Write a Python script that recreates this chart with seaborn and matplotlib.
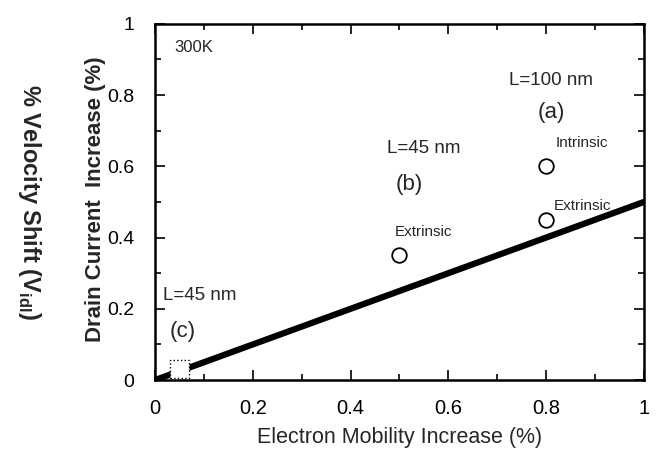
import matplotlib
matplotlib.use("Agg")
import matplotlib.pyplot as plt
import seaborn as sns
import pandas as pd
from matplotlib.ticker import MultipleLocator, FuncFormatter

# data
fit_x = [0.0, 1.0]
fit_y = [0.0, 0.5]
circle_x = [0.5, 0.8, 0.8]
circle_y = [0.35, 0.60, 0.45]
square_x = [0.05]
square_y = [0.03]

sns.set_theme(style="ticks")
fam = ['Liberation Sans', 'DejaVu Sans']
plt.rcParams['font.family'] = fam
plt.rcParams['mathtext.fontset'] = 'custom'
plt.rcParams['mathtext.rm'] = 'Liberation Sans'
plt.rcParams['mathtext.bf'] = 'Liberation Sans:bold'

fig = plt.figure(figsize=(6.57, 4.59), dpi=100)
ax = fig.add_axes([0.236, 0.172, 0.744, 0.776])

df_fit = pd.DataFrame({'x': fit_x, 'y': fit_y})
df_c = pd.DataFrame({'x': circle_x, 'y': circle_y})
df_s = pd.DataFrame({'x': square_x, 'y': square_y})

sns.lineplot(data=df_fit, x='x', y='y', ax=ax, color='black', linewidth=4.5, zorder=2)
sns.scatterplot(data=df_c, x='x', y='y', ax=ax, marker='o', s=110, facecolor='white',
                edgecolor='black', linewidth=1.3, zorder=3)
sns.scatterplot(data=df_s, x='x', y='y', ax=ax, marker='s', s=170, facecolor='white',
                edgecolor='black', linewidth=1.0, linestyle=':', zorder=3)

ax.set_xlim(0, 1)
ax.set_ylim(0, 1)
ax.xaxis.set_major_locator(MultipleLocator(0.2))
ax.xaxis.set_minor_locator(MultipleLocator(0.1))
ax.yaxis.set_major_locator(MultipleLocator(0.2))
ax.yaxis.set_minor_locator(MultipleLocator(0.1))
ax.xaxis.set_major_formatter(FuncFormatter(lambda v, p: '%g' % round(v, 2)))
ax.yaxis.set_major_formatter(FuncFormatter(lambda v, p: '%g' % round(v, 2)))
ax.tick_params(which='both', direction='in', top=True, right=True, width=1.2, colors='black')
ax.tick_params(axis='x', which='major', length=7, labelsize=14.5, pad=14)
ax.tick_params(axis='y', which='major', length=7, labelsize=14, pad=15)
ax.tick_params(which='minor', length=4)
for s in ax.spines.values():
    s.set_linewidth(1.8)
    s.set_color('black')

ax.set_xlabel('Electron Mobility Increase (%)', fontsize=15.5, labelpad=6)
ax.set_ylabel('')
fig.text(0.145, 0.566, 'Drain Current  Increase (%)', rotation=90,
         fontsize=16, fontweight='bold', ha='center', va='center')
fig.text(0.045, 0.56, r'% Velocity Shift (V$_{\mathbf{idl}}$)', rotation=270,
         fontsize=17, fontweight='bold', ha='center', va='center')

ax.text(0.04, 0.935, '300K', fontsize=12, ha='left', va='center')
ax.text(0.81, 0.84, 'L=100 nm', fontsize=13.5, ha='center', va='center')
ax.text(0.81, 0.75, '(a)', fontsize=16, ha='center', va='center')
ax.text(0.82, 0.665, 'Intrinsic', fontsize=11, ha='left', va='center')
ax.text(0.815, 0.49, 'Extrinsic', fontsize=11, ha='left', va='center')
ax.text(0.55, 0.65, 'L=45 nm', fontsize=13.5, ha='center', va='center')
ax.text(0.52, 0.55, '(b)', fontsize=16, ha='center', va='center')
ax.text(0.49, 0.415, 'Extrinsic', fontsize=11, ha='left', va='center')
ax.text(0.016, 0.236, 'L=45 nm', fontsize=13.5, ha='left', va='center')
ax.text(0.057, 0.135, '(c)', fontsize=16, ha='center', va='center')

fig.savefig('out.png', dpi=100)
